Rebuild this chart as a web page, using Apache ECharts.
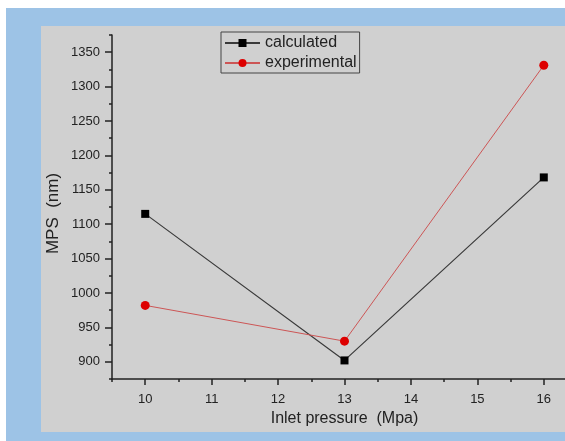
<!DOCTYPE html>
<html>
<head>
<meta charset="utf-8">
<script src="https://cdn.jsdelivr.net/npm/echarts@6/dist/echarts.min.js"></script>
<style>
    body { margin: 0; background: #fff; }
    #frame { position: absolute; left: 6px; top: 8px; width: 559px; height: 433px; background: #9dc3e6; }
    #chart_main { position: absolute; left: 41px; top: 26px; width: 524px; height: 406px; background: #d0d0d0; }
</style>
</head>
<body>
<div id="frame"></div>
<div id="chart_main"></div>
<script>
// 数据
let pressure = [10, 13, 16];
let calculated = [1115, 902, 1168];
let experimental = [982, 930, 1331];
let series_names = ['calculated', 'experimental'];

let font = "'Liberation Sans', Arial, sans-serif";
let myChart = echarts.init(document.getElementById('chart_main'));

function pairs(xs, ys) {
    let out = [];
    for (let i = 0; i < xs.length; i++) {
        out.push([xs[i], ys[i]]);
    }
    return out;
}

// 轴线 + 刻度（主刻度放在 minorTick 上，因为刻度从 min 开始数）
let tickAxisX = {
    type: 'value', min: 9.5, max: 16.5, interval: 1, position: 'bottom', offset: 0,
    axisLine: {show: true, onZero: false, lineStyle: {color: '#222', width: 1.5}},
    axisTick: {show: true, length: 3, lineStyle: {color: '#222', width: 1.5}},
    minorTick: {show: true, splitNumber: 2, length: 6, lineStyle: {color: '#222', width: 1.5}},
    axisLabel: {show: false},
    splitLine: {show: false},
    minorSplitLine: {show: false}
};
let labelAxisX = {
    type: 'value', min: 9.5, max: 16.5, interval: 0.5, position: 'bottom', offset: 0,
    axisLine: {show: false}, axisTick: {show: false}, splitLine: {show: false},
    axisLabel: {
        margin: 14, color: '#222', fontSize: 13, fontFamily: font,
        formatter: function (v) { return v % 1 === 0 ? String(v) : ''; }
    },
    name: 'Inlet pressure  (Mpa)', nameLocation: 'middle', nameGap: 28,
    nameTextStyle: {color: '#222', fontSize: 16, fontFamily: font}
};
let tickAxisY = {
    type: 'value', min: 875, max: 1375, interval: 50, position: 'left', offset: 0,
    axisLine: {show: true, onZero: false, lineStyle: {color: '#222', width: 1.5}},
    axisTick: {show: true, length: 3, lineStyle: {color: '#222', width: 1.5}},
    minorTick: {show: true, splitNumber: 2, length: 7, lineStyle: {color: '#222', width: 1.5}},
    axisLabel: {show: false},
    splitLine: {show: false},
    minorSplitLine: {show: false}
};
let labelAxisY = {
    type: 'value', min: 875, max: 1375, interval: 25, position: 'left', offset: 0,
    axisLine: {show: false}, axisTick: {show: false}, splitLine: {show: false},
    axisLabel: {
        margin: 12, color: '#222', fontSize: 13, fontFamily: font,
        formatter: function (v) { return v % 50 === 0 ? String(v) : ''; }
    },
    name: 'MPS  (nm)', nameLocation: 'middle', nameGap: 50, nameMoveOverlap: false,
    nameTextStyle: {color: '#222', fontSize: 17, fontFamily: font, padding: [0, 13, 0, 0]}
};

let option = {
    animation: false,
    grid: {left: 71, top: 9, bottom: 53, right: -12, containLabel: false, outerBoundsMode: 'none'},
    legend: {
        orient: 'vertical', left: 180, top: 6,
        data: series_names,
        itemWidth: 35, itemHeight: 10, itemGap: 4,
        padding: [3, 3, 2, 3],
        borderColor: '#444', borderWidth: 1,
        textStyle: {color: '#222', fontSize: 16, fontFamily: font}
    },
    xAxis: [tickAxisX, labelAxisX],
    yAxis: [tickAxisY, labelAxisY],
    series: [{
        name: series_names[0],
        type: 'line',
        data: pairs(pressure, calculated),
        symbol: 'rect', symbolSize: 8,
        itemStyle: {color: '#000'},
        lineStyle: {color: '#3a3a3a', width: 1.2}
    }, {
        name: series_names[1],
        type: 'line',
        data: pairs(pressure, experimental),
        symbol: 'circle', symbolSize: 9,
        itemStyle: {color: '#dd0000'},
        lineStyle: {color: '#cc5555', width: 1}
    }]
};
myChart.setOption(option);
</script>
</body>
</html>
